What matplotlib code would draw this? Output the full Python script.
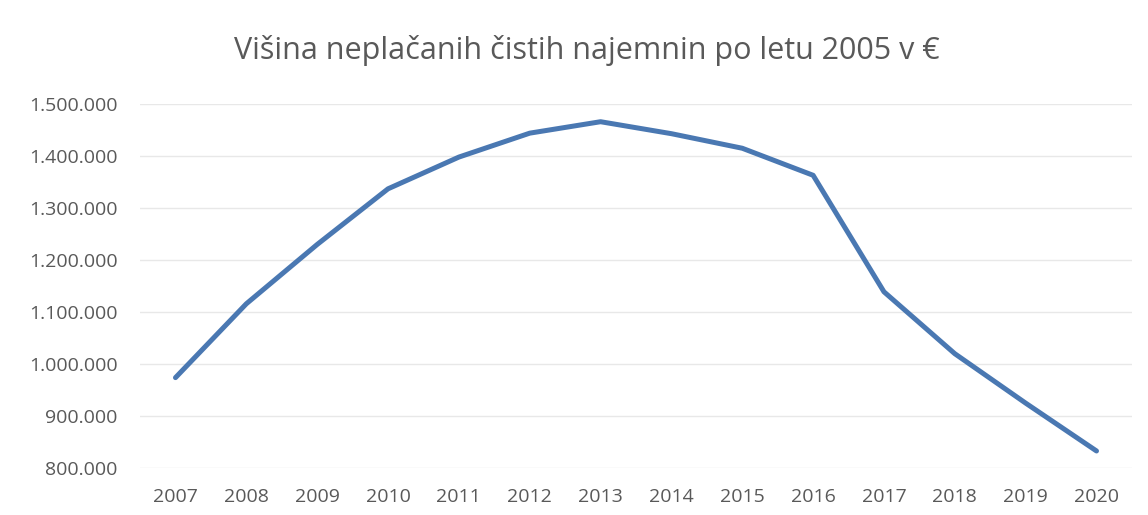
import matplotlib.pyplot as plt
import matplotlib.ticker as mticker

# Data
years = ['2007', '2008', '2009', '2010', '2011', '2012', '2013',
         '2014', '2015', '2016', '2017', '2018', '2019', '2020']
values = [974000, 1116000, 1230000, 1337000, 1398000, 1444000, 1466000,
          1443000, 1415000, 1363000, 1139000, 1020000, 925000, 833000]
y_ticks = [800000, 900000, 1000000, 1100000, 1200000, 1300000, 1400000, 1500000]
title = 'Višina neplačanih čistih najemnin po letu 2005 v €'

plt.rcParams['font.family'] = ['Open Sans', 'DejaVu Sans']
text_color = '#595959'

fig = plt.figure(figsize=(11.48, 5.15), dpi=100)
ax = fig.add_axes([0.122, 0.091, 0.864, 0.707])

x = list(range(len(years)))
ax.plot(x, values, color='#4a78b2', linewidth=3.6, solid_capstyle='round',
        solid_joinstyle='round', zorder=3)

ax.set_xlim(-0.5, len(years) - 0.5)
ax.set_ylim(800000, 1500000)
ax.set_yticks(y_ticks)
ax.yaxis.set_major_formatter(
    mticker.FuncFormatter(lambda v, p: f'{int(v):,}'.replace(',', '.')))
ax.set_xticks(x)
ax.set_xticklabels(years)

ax.grid(axis='y', color='#e8e8e8', linewidth=1.0)
ax.set_axisbelow(True)
for s in ax.spines.values():
    s.set_visible(False)
ax.tick_params(axis='both', length=0, labelsize=14, colors=text_color)
ax.tick_params(axis='y', pad=16)
ax.tick_params(axis='x', pad=14)

fig.text(0.511, 0.902, title, ha='center', va='center', fontsize=22,
         color=text_color)

fig.savefig('out.png', dpi=100, facecolor='white')
